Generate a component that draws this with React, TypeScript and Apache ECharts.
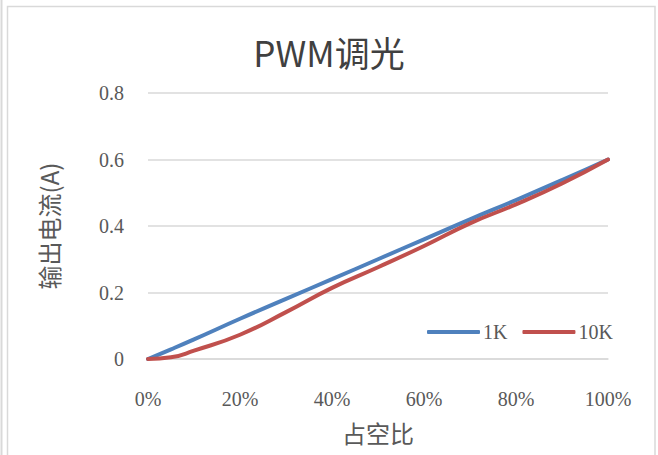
import React, { useEffect, useRef } from "react";
import * as echarts from "echarts";

const dutyCycles = [0, 0.05, 0.1, 0.2, 0.3, 0.4, 0.5, 0.6, 0.7, 0.8, 0.9, 1.0];
const current1K = [0, 0.029, 0.059, 0.121, 0.181, 0.24, 0.3, 0.36, 0.42, 0.478, 0.538, 0.6];
const current10K = [0, 0.005, 0.025, 0.073, 0.141, 0.214, 0.276, 0.34, 0.408, 0.465, 0.528, 0.6];
const yTicks = [0, 0.2, 0.4, 0.6, 0.8];
const seriesNames = ["1K", "10K"];

export default function App() {
  const ref = useRef<HTMLDivElement>(null);
  useEffect(() => {
    if (!ref.current) return;
    const chart = echarts.init(ref.current, null, { renderer: "svg" });
    const gray = "#595959";
    const serif = "'Liberation Serif', 'DejaVu Serif', serif";
    const cjk = "'Noto Sans CJK SC', 'Noto Sans', sans-serif";
    chart.setOption({
      animation: false,
      backgroundColor: "#ffffff",
      title: {
        text: "PWM调光",
        left: "center",
        top: 29,
        textStyle: { fontFamily: cjk, fontSize: 35, fontWeight: "normal", color: "#404040" },
      },
      graphic: [
        { type: "line", shape: { x1: 1.5, y1: 0, x2: 1.5, y2: 455 }, style: { stroke: "#d9d9d9", lineWidth: 2 } },
        { type: "rect", shape: { x: 7.5, y: 6.5, width: 647.5, height: 460 }, style: { fill: "none", stroke: "#d9d9d9", lineWidth: 1.5 } },
      ],
      legend: {
        data: seriesNames,
        left: 427,
        top: 322,
        padding: 0,
        itemWidth: 53,
        itemHeight: 4,
        itemGap: 15,
        icon: "roundRect",
        textStyle: { fontFamily: serif, fontSize: 20, color: gray, padding: [0, 0, 0, -2] },
      },
      grid: { left: 148, right: 50, top: 93, bottom: 96 },
      xAxis: {
        type: "value",
        min: 0,
        max: 1,
        interval: 0.2,
        name: "占空比",
        nameLocation: "middle",
        nameGap: 61,
        nameTextStyle: { fontFamily: cjk, fontSize: 24, color: gray },
        axisLine: { show: true, lineStyle: { color: "#d9d9d9", width: 1.5 } },
        axisTick: { show: false },
        splitLine: { show: false },
        axisLabel: {
          margin: 30,
          fontFamily: serif,
          fontSize: 20,
          color: gray,
          formatter: (v: number) => `${Math.round(v * 100)}%`,
        },
      },
      yAxis: {
        type: "value",
        min: 0,
        max: 0.8,
        interval: 0.2,
        name: "输出电流(A)",
        nameLocation: "middle",
        nameGap: 88,
        nameTextStyle: { fontFamily: cjk, fontSize: 24, color: gray },
        axisLine: { show: false },
        axisTick: { show: false },
        splitLine: { show: true, lineStyle: { color: "#d9d9d9", width: 1.5 } },
        axisLabel: {
          margin: 24,
          fontFamily: serif,
          fontSize: 20,
          color: gray,
          formatter: (v: number) => {
            const t = yTicks.find((y) => Math.abs(y - v) < 1e-6);
            return t === 0 ? "0" : String(t ?? v);
          },
        },
      },
      series: [
        {
          name: seriesNames[0],
          type: "line",
          data: dutyCycles.map((x, i) => [x, current1K[i]]),
          smooth: 0.5,
          symbol: "none",
          lineStyle: { color: "#4F81BD", width: 4, cap: "round" },
          itemStyle: { color: "#4F81BD" },
        },
        {
          name: seriesNames[1],
          type: "line",
          data: dutyCycles.map((x, i) => [x, current10K[i]]),
          smooth: 0.5,
          symbol: "none",
          lineStyle: { color: "#C0504D", width: 4, cap: "round" },
          itemStyle: { color: "#C0504D" },
        },
      ],
    });
    return () => chart.dispose();
  }, []);
  return (
    <div
      ref={ref}
      style={{ position: "fixed", left: 0, top: 0, width: 658, height: 455 }}
    />
  );
}
